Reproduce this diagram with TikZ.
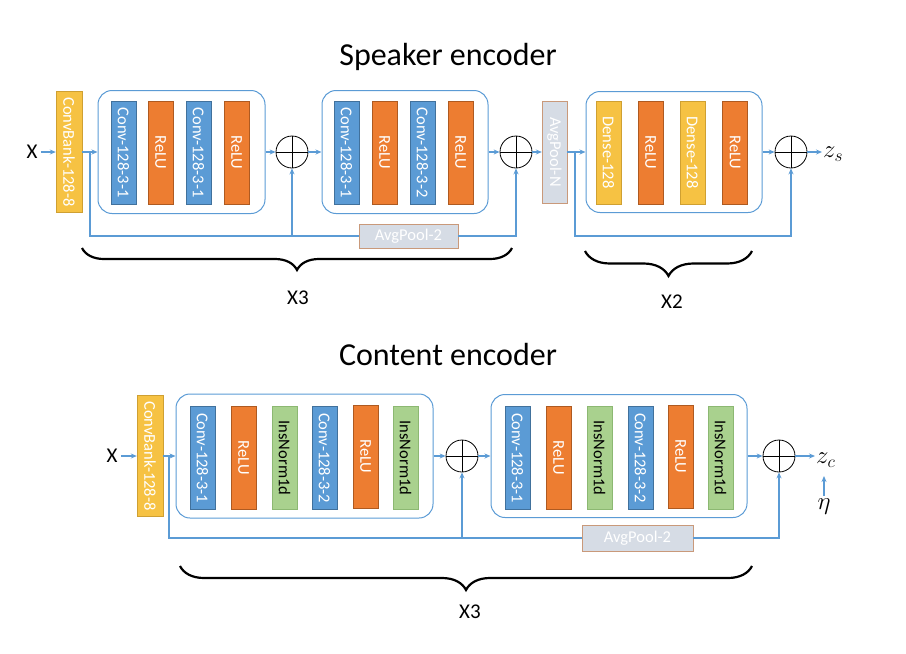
\documentclass[tikz,border=0pt]{standalone}
\usepackage{fontspec}
\setmainfont{Carlito}
\usetikzlibrary{arrows.meta,decorations.pathreplacing}
\definecolor{linkblue}{HTML}{5B9BD5}
\definecolor{convblue}{HTML}{5B9BD5}
\definecolor{convedge}{HTML}{41719C}
\definecolor{reluorange}{HTML}{ED7D31}
\definecolor{reluedge}{HTML}{AE5A21}
\definecolor{densegold}{HTML}{F6C243}
\definecolor{denseedge}{HTML}{CFA032}
\definecolor{normgreen}{HTML}{A9D18E}
\definecolor{normedge}{HTML}{8CB872}
\definecolor{poolgray}{HTML}{D6DCE5}
\definecolor{pooledge}{HTML}{C9997A}

\begin{document}
\begin{tikzpicture}[x=1pt,y=-1pt,
  layer/.style={rotate=-90,minimum width=103pt,minimum height=25pt,inner sep=0pt,
    text=white,font=\fontsize{16.5}{18}\selectfont},
  conv/.style={layer,fill=convblue,draw=convedge},
  relu/.style={layer,fill=reluorange,draw=reluedge},
  dense/.style={layer,fill=densegold,draw=denseedge},
  inorm/.style={layer,fill=normgreen,draw=normedge,text=black},
  bank/.style={dense,minimum width=121pt,minimum height=26pt},
  pool/.style={draw=pooledge,fill=poolgray,text=white,inner sep=0pt,
    font=\fontsize{16.5}{18}\selectfont},
  group/.style={draw=linkblue,line width=1pt,rounded corners=14pt},
  sum/.style={circle,draw=black,line width=0.8pt,minimum size=32pt,inner sep=0pt,
    path picture={\draw[line width=0.8pt] (path picture bounding box.north) -- (path picture bounding box.south)
      (path picture bounding box.west) -- (path picture bounding box.east);}},
  link/.style={draw=linkblue,line width=1.1pt},
  arr/.style={link,-{Stealth[length=6pt,width=5pt]}},
  brace/.style={decorate,line width=2.2pt,decoration={brace,mirror,amplitude=#1}},
  label/.style={font=\fontsize{21}{25}\selectfont},
  mathlabel/.style={font=\fontsize{26}{30}\selectfont},
  title/.style={font=\fontsize{32}{38}\selectfont}]
\useasboundingbox (0,0) rectangle (906,654);

% speaker encoder
\node[title] (tspk) at (448,57) {Speaker encoder};
\node[label] (xs) at (32,152) {X};
\node[bank] (cbs) at (69,152) {ConvBank-128-8};
\node[group,minimum width=167pt,minimum height=123pt] (blk1) at (181.5,152) {};
\node[conv] (s11) at (123.5,152.5) {Conv-128-3-1};
\node[relu] (s12) at (160.5,152.5) {ReLU};
\node[conv] (s13) at (198.5,152.5) {Conv-128-3-1};
\node[relu] (s14) at (236.5,152.5) {ReLU};
\node[sum] (sum1) at (292,152) {};
\node[group,minimum width=166pt,minimum height=123pt] (blk2) at (405,152) {};
\node[conv] (s21) at (346.5,152.5) {Conv-128-3-1};
\node[relu] (s22) at (384.5,152.5) {ReLU};
\node[conv] (s23) at (422.5,152.5) {Conv-128-3-2};
\node[relu] (s24) at (460.5,152.5) {ReLU};
\node[sum] (sum2) at (516,152) {};
\node[pool,minimum width=99pt,minimum height=24pt] (apa) at (408.5,236) {AvgPool-2};
\node[pool,rotate=-90,minimum width=102pt,minimum height=25pt] (apn) at (554.5,152) {AvgPool-N};
\node[group,minimum width=176pt,minimum height=121pt] (blk3) at (674,152) {};
\node[dense] (s31) at (608.5,152.5) {Dense-128};
\node[relu] (s32) at (650.5,152.5) {ReLU};
\node[dense] (s33) at (692.5,152.5) {Dense-128};
\node[relu] (s34) at (735,152.5) {ReLU};
\node[sum] (sum3) at (791,152) {};
\node[mathlabel,anchor=west,inner sep=1pt] (zs) at (822,154) {$z_s$};
\coordinate (js1) at (90,152);
\coordinate (js2) at (575,152);

\draw[arr] (xs) -- (cbs);
\draw[arr] (cbs) -- (blk1);
\draw[arr] (blk1) -- (sum1);
\draw[arr] (sum1) -- (blk2);
\draw[arr] (blk2) -- (sum2);
\draw[arr] (sum2) -- (apn);
\draw[arr] (apn) -- (blk3);
\draw[arr] (blk3) -- (sum3);
\draw[arr] (sum3) -- (zs.west |- sum3);
\draw[link] (js1) |- (apa);
\draw[arr] (apa -| sum1) -- (sum1);
\draw[arr] (apa) -| (sum2);
\draw[arr] (js2) |- (apa -| sum3) -- (sum3);

\draw[brace=22pt] (82,248) -- (512,248);
\node[label] (rep1) at (298,298) {X3};
\draw[brace=25pt] (585,251) -- (752,251);
\node[label] (rep2) at (672,302) {X2};

% content encoder
\node[title] (tcnt) at (448,355) {Content encoder};
\node[label] (xc) at (112,456) {X};
\node[bank] (cbc) at (150,456) {ConvBank-128-8};
\node[group,minimum width=257pt,minimum height=124pt] (blk4) at (304.5,456) {};
\node[conv] (c11) at (202.5,458) {Conv-128-3-1};
\node[relu] (c12) at (243.5,458) {ReLU};
\node[inorm] (c13) at (284.5,458) {InsNorm1d};
\node[conv] (c14) at (324.5,458) {Conv-128-3-2};
\node[relu] (c15) at (365.5,456.5) {ReLU};
\node[inorm] (c16) at (405.5,458) {InsNorm1d};
\node[sum] (sum4) at (462,456) {};
\node[group,minimum width=256pt,minimum height=123pt] (blk5) at (619,456) {};
\node[conv] (c21) at (517.5,458) {Conv-128-3-1};
\node[relu] (c22) at (558.5,458) {ReLU};
\node[inorm] (c23) at (599.5,458) {InsNorm1d};
\node[conv] (c24) at (640.5,458) {Conv-128-3-2};
\node[relu] (c25) at (680.5,456.5) {ReLU};
\node[inorm] (c26) at (720.5,458) {InsNorm1d};
\node[sum] (sum5) at (779,456) {};
\node[pool,minimum width=111pt,minimum height=26pt] (apb) at (637.5,538) {AvgPool-2};
\node[mathlabel,anchor=west,inner sep=1pt] (zc) at (815,460) {$z_c$};
\node[mathlabel,font=\fontsize{24}{28}\selectfont] (eta) at (824,507) {$\eta$};
\coordinate (jc1) at (169,456);
\coordinate (zcfoot) at (824,476);

\draw[arr] (xc) -- (cbc);
\draw[arr] (cbc) -- (blk4);
\draw[arr] (blk4) -- (sum4);
\draw[arr] (sum4) -- (blk5);
\draw[arr] (blk5) -- (sum5);
\draw[arr] (sum5) -- (zc.west |- sum5);
\draw[arr] (eta) -- (zcfoot);
\draw[link] (jc1) |- (apb);
\draw[arr] (apb -| sum4) -- (sum4);
\draw[arr] (apb) -| (sum5);

\draw[brace=24pt] (180,566) -- (752,566);
\node[label] (rep3) at (470,612) {X3};
\end{tikzpicture}
\end{document}
